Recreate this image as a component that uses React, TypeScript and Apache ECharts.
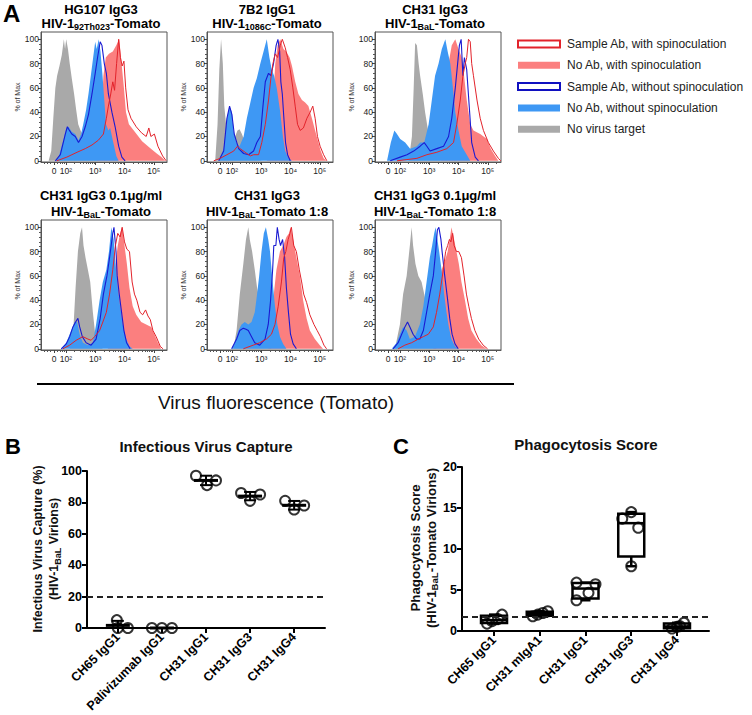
import { useEffect, useRef } from 'react';
import * as echarts from 'echarts';

const FONT = '"Liberation Sans", Arial, Helvetica, sans-serif';

// ---------------- Panel A: flow histograms ([decade position, % of max]) ----------------
const HIST_TICK_VALUES = [1.6, 2, 3, 4, 5];
const HIST_TICK_LABELS = ['0', '10²', '10³', '10⁴', '10⁵'];
const PCT_TICKS = [0, 20, 40, 60, 80, 100];

const P1_NO_VIRUS = [[1.41,0],[1.5,8],[1.57,35],[1.64,60],[1.7,70],[1.78,78],[1.86,87],[1.93,100],[1.97,92],[2.01,100],[2.07,92],[2.13,80],[2.2,68],[2.28,55],[2.35,42],[2.42,30],[2.5,25],[2.6,20],[2.75,14],[2.95,5],[3.15,0]];
const P1_NOAB_SPIN = [[3.06,0],[3.2,30],[3.28,70],[3.36,85],[3.47,88],[3.6,90],[3.72,95],[3.82,100],[3.9,80],[3.98,60],[4.05,40],[4.15,30],[4.35,24],[4.6,16],[4.85,11],[5.1,6],[5.27,3],[5.39,0]];
const P1_NOAB_NOSPIN = [[1.64,0],[1.75,3],[1.83,10],[1.92,18],[2.01,27],[2.09,28],[2.2,24],[2.32,22],[2.43,17],[2.52,22],[2.6,31],[2.69,42],[2.77,55],[2.85,70],[2.93,85],[3.0,98],[3.05,92],[3.12,100],[3.18,90],[3.25,70],[3.31,50],[3.37,30],[3.45,25],[3.51,27],[3.6,17],[3.72,4],[3.8,0]];
const P1_AB_NOSPIN = [[1.64,0],[1.81,5],[1.98,22],[2.05,28],[2.12,25],[2.2,22],[2.32,20],[2.43,15],[2.55,20],[2.66,28],[2.77,38],[2.89,55],[3.0,72],[3.08,85],[3.17,98],[3.23,95],[3.31,80],[3.38,72],[3.45,55],[3.57,40],[3.68,28],[3.8,12],[3.91,3],[4.02,0]];
const P1_AB_SPIN = [[1.69,0],[2.03,3],[2.38,7],[2.66,10],[2.89,13],[3.11,17],[3.28,22],[3.38,35],[3.45,45],[3.53,55],[3.6,65],[3.66,58],[3.73,80],[3.8,100],[3.86,85],[3.92,78],[3.98,82],[4.04,60],[4.12,42],[4.22,35],[4.4,28],[4.58,23],[4.74,20],[4.83,27],[4.9,20],[5.02,22],[5.14,12],[5.3,4],[5.42,0]];

const P2_NO_VIRUS = [[1.43,0],[1.51,30],[1.57,75],[1.63,100],[1.69,80],[1.74,45],[1.81,28],[1.89,22],[2.0,18],[2.11,20],[2.19,25],[2.26,26],[2.34,22],[2.45,15],[2.63,8],[2.85,2],[3.02,0]];
const P2_NOAB_SPIN = [[3.19,0],[3.36,30],[3.48,80],[3.56,95],[3.65,100],[3.76,92],[3.85,90],[3.97,85],[4.05,78],[4.16,65],[4.27,55],[4.39,50],[4.5,48],[4.61,45],[4.73,35],[4.84,25],[4.95,15],[5.03,8],[5.13,2],[5.22,0]];
const P2_NOAB_NOSPIN = [[1.55,0],[1.72,10],[1.83,35],[1.92,45],[2.0,40],[2.06,25],[2.15,15],[2.26,12],[2.4,20],[2.51,35],[2.63,48],[2.74,60],[2.85,68],[2.97,80],[3.08,90],[3.19,100],[3.28,85],[3.36,75],[3.44,70],[3.53,60],[3.65,40],[3.74,20],[3.82,8],[3.93,2],[4.05,0]];
const P2_AB_NOSPIN = [[1.55,0],[1.72,8],[1.83,35],[1.92,45],[2.0,38],[2.08,22],[2.23,10],[2.4,6],[2.57,5],[2.74,8],[2.85,15],[2.97,20],[3.06,45],[3.14,65],[3.25,72],[3.33,70],[3.42,80],[3.51,95],[3.57,100],[3.63,90],[3.67,65],[3.72,55],[3.76,40],[3.83,15],[3.9,5],[3.99,0]];
const P2_AB_SPIN = [[1.38,0],[1.6,2],[1.83,5],[2.06,8],[2.19,12],[2.28,10],[2.45,7],[2.63,4],[2.74,5],[2.91,5],[3.02,15],[3.14,30],[3.25,50],[3.33,68],[3.4,80],[3.48,88],[3.56,85],[3.65,95],[3.72,100],[3.82,93],[3.9,85],[3.99,75],[4.08,60],[4.16,45],[4.24,30],[4.33,25],[4.44,27],[4.56,35],[4.67,40],[4.76,45],[4.84,35],[4.92,20],[5.01,12],[5.13,5],[5.24,0]];

const P3_NO_VIRUS = [[2.3,0],[2.41,20],[2.47,60],[2.52,97],[2.58,95],[2.64,80],[2.69,70],[2.78,55],[2.86,40],[2.94,28],[3.03,15],[3.2,5],[3.38,0]];
const P3_NOAB_SPIN = [[3.38,0],[3.55,40],[3.66,80],[3.77,95],[3.89,100],[4.0,92],[4.11,85],[4.19,70],[4.28,50],[4.4,30],[4.51,25],[4.74,22],[4.97,18],[5.1,10],[5.25,4],[5.36,0]];
const P3_NOAB_NOSPIN = [[1.56,0],[1.69,15],[1.81,25],[1.9,22],[2.01,18],[2.18,15],[2.35,10],[2.58,12],[2.69,15],[2.83,15],[2.98,30],[3.09,50],[3.2,70],[3.32,80],[3.43,92],[3.55,100],[3.63,90],[3.72,80],[3.81,60],[3.89,40],[4.0,25],[4.11,12],[4.28,5],[4.4,0]];
const P3_AB_NOSPIN = [[1.67,0],[2.01,3],[2.24,5],[2.47,8],[2.69,12],[2.83,15],[2.92,12],[3.03,8],[3.26,10],[3.49,12],[3.66,20],[3.77,35],[3.89,60],[3.97,80],[4.03,95],[4.09,100],[4.15,70],[4.2,85],[4.28,75],[4.38,40],[4.45,15],[4.57,3],[4.68,0]];
const P3_AB_SPIN = [[1.9,0],[2.24,1],[2.58,2],[2.92,5],[3.26,7],[3.6,10],[3.83,15],[3.94,30],[4.06,50],[4.15,70],[4.23,80],[4.28,85],[4.34,100],[4.4,98],[4.45,80],[4.51,70],[4.63,50],[4.74,35],[4.85,25],[5.02,15],[5.19,8],[5.36,2],[5.44,0]];

const P4_NO_VIRUS = [[2.13,0],[2.24,10],[2.33,50],[2.41,80],[2.49,95],[2.55,100],[2.6,85],[2.67,75],[2.75,65],[2.83,55],[2.92,30],[3.01,10],[3.15,3],[3.26,0]];
const P4_NOAB_SPIN = [[3.43,0],[3.6,40],[3.69,70],[3.77,85],[3.85,95],[3.92,100],[4.0,85],[4.08,70],[4.17,50],[4.28,35],[4.4,28],[4.57,22],[4.74,20],[4.91,18],[5.02,12],[5.14,5],[5.25,0]];
const P4_NOAB_NOSPIN = [[1.84,0],[2.01,5],[2.18,15],[2.3,22],[2.38,22],[2.47,12],[2.58,5],[2.75,3],[2.92,5],[3.03,20],[3.15,40],[3.26,55],[3.38,65],[3.47,80],[3.55,100],[3.63,90],[3.69,70],[3.77,50],[3.85,35],[3.94,20],[4.06,8],[4.17,2],[4.28,0]];
const P4_AB_NOSPIN = [[1.84,0],[2.01,4],[2.13,10],[2.24,18],[2.33,22],[2.41,25],[2.47,18],[2.56,10],[2.69,5],[2.86,3],[3.03,8],[3.17,25],[3.28,45],[3.4,60],[3.49,75],[3.6,95],[3.64,100],[3.71,80],[3.75,60],[3.82,45],[3.9,30],[3.98,15],[4.07,5],[4.19,0]];
const P4_AB_SPIN = [[1.9,0],[2.13,3],[2.35,7],[2.58,10],[2.75,8],[2.86,7],[2.98,10],[3.15,15],[3.26,22],[3.38,30],[3.49,45],[3.6,65],[3.69,85],[3.77,95],[3.85,92],[3.92,100],[4.0,88],[4.08,82],[4.17,80],[4.26,55],[4.34,45],[4.42,40],[4.53,30],[4.62,28],[4.72,32],[4.8,27],[4.88,24],[4.97,15],[5.08,10],[5.22,2],[5.31,0]];

const P5_NO_VIRUS = [[2.05,0],[2.16,15],[2.27,45],[2.39,70],[2.48,90],[2.56,100],[2.61,90],[2.69,80],[2.78,65],[2.86,50],[2.95,40],[3.07,20],[3.18,8],[3.35,0]];
const P5_NOAB_SPIN = [[3.24,0],[3.35,20],[3.43,45],[3.52,65],[3.64,80],[3.75,85],[3.86,92],[3.95,95],[4.0,100],[4.09,90],[4.2,75],[4.32,60],[4.43,40],[4.55,25],[4.66,15],[4.83,8],[5.0,3],[5.11,0]];
const P5_NOAB_NOSPIN = [[1.99,0],[2.1,5],[2.22,15],[2.33,20],[2.44,22],[2.56,20],[2.67,22],[2.78,30],[2.86,45],[2.93,60],[3.01,80],[3.09,95],[3.16,100],[3.24,90],[3.3,80],[3.39,55],[3.47,35],[3.55,20],[3.64,10],[3.75,4],[3.86,0]];
const P5_AB_NOSPIN = [[1.99,0],[2.16,8],[2.27,15],[2.39,17],[2.48,16],[2.56,15],[2.67,10],[2.78,5],[2.95,3],[3.13,8],[3.24,20],[3.32,40],[3.39,65],[3.43,85],[3.5,85],[3.55,100],[3.61,90],[3.66,85],[3.73,90],[3.8,75],[3.86,50],[3.93,30],[4.0,12],[4.09,4],[4.2,0]];
const P5_AB_SPIN = [[2.39,0],[2.73,3],[2.95,5],[3.18,8],[3.35,12],[3.47,20],[3.58,35],[3.69,55],[3.77,75],[3.84,80],[3.92,90],[3.98,95],[4.03,100],[4.11,85],[4.2,80],[4.3,65],[4.38,55],[4.45,45],[4.55,38],[4.66,28],[4.8,20],[4.91,15],[5.02,10],[5.14,3],[5.23,0]];

const P6_NO_VIRUS = [[1.83,0],[2.0,20],[2.11,45],[2.23,60],[2.34,85],[2.4,100],[2.45,85],[2.53,70],[2.63,60],[2.74,55],[2.83,45],[2.91,35],[3.02,15],[3.14,5],[3.25,0]];
const P6_NOAB_SPIN = [[3.14,0],[3.25,30],[3.33,55],[3.42,65],[3.53,72],[3.63,80],[3.7,90],[3.76,100],[3.85,90],[3.93,80],[4.01,70],[4.1,55],[4.22,40],[4.33,25],[4.44,15],[4.61,8],[4.78,3],[4.95,0]];
const P6_NOAB_NOSPIN = [[1.72,0],[1.89,5],[2.0,12],[2.11,18],[2.23,15],[2.34,8],[2.51,10],[2.68,20],[2.8,35],[2.91,55],[3.02,75],[3.1,85],[3.17,95],[3.22,100],[3.28,90],[3.34,80],[3.42,65],[3.51,45],[3.59,30],[3.67,18],[3.76,8],[3.88,2],[3.99,0]];
const P6_AB_NOSPIN = [[1.77,0],[1.94,5],[2.06,12],[2.17,18],[2.26,22],[2.34,18],[2.45,12],[2.57,8],[2.68,8],[2.8,15],[2.91,30],[3.02,45],[3.14,60],[3.22,80],[3.28,98],[3.33,100],[3.4,90],[3.44,80],[3.53,60],[3.63,40],[3.7,25],[3.78,12],[3.88,4],[3.99,0]];
const P6_AB_SPIN = [[1.94,0],[2.17,3],[2.4,5],[2.63,8],[2.8,10],[2.97,12],[3.14,18],[3.25,30],[3.36,45],[3.48,65],[3.56,80],[3.63,85],[3.69,90],[3.74,88],[3.8,95],[3.85,85],[3.93,80],[4.01,80],[4.1,75],[4.19,60],[4.27,45],[4.35,35],[4.44,25],[4.56,15],[4.69,8],[4.84,3],[4.99,0]];

const PANEL_ANTIBODY = ['HG107 IgG3', '7B2 IgG1', 'CH31 IgG3', 'CH31 IgG3 0.1μg/ml', 'CH31 IgG3', 'CH31 IgG3 0.1μg/ml'];
const PANEL_STRAIN = ['92Th023', '1086C', 'BaL', 'BaL', 'BaL', 'BaL'];
const PANEL_SUFFIX = ['-Tomato', '-Tomato', '-Tomato', '-Tomato', '-Tomato 1:8', '-Tomato 1:8'];

const LEGEND_LABELS = [
  'Sample Ab, with spinoculation',
  'No Ab, with spinoculation',
  'Sample Ab, without spinoculation',
  'No Ab, without spinoculation',
  'No virus target',
];

// ---------------- Panel B: infectious virus capture ----------------
const B_CATEGORIES = ['CH65 IgG1', 'Palivizumab IgG1', 'CH31 IgG1', 'CH31 IgG3', 'CH31 IgG4'];
const B_CH65_IGG1 = [5, 0, 0];
const B_PALIVIZUMAB_IGG1 = [0, 0, 0];
const B_CH31_IGG1 = [97, 91, 94];
const B_CH31_IGG3 = [86, 81, 85];
const B_CH31_IGG4 = [81, 75.5, 78];
const B_THRESHOLD = 20;

// ---------------- Panel C: phagocytosis score ----------------
const C_CATEGORIES = ['CH65 IgG1', 'CH31 mIgA1', 'CH31 IgG1', 'CH31 IgG3', 'CH31 IgG4'];
const C_CH65_IGG1 = [0.9, 1.2, 1.45, 2.0];
const C_CH31_MIGA1 = [1.8, 2.0, 2.2, 2.4];
const C_CH31_IGG1 = [3.75, 4.65, 5.7, 5.9];
const C_CH31_IGG3 = [7.9, 12.6, 13.7, 14.5];
const C_CH31_IGG4 = [0.3, 0.5, 0.6, 1.0];
const C_THRESHOLD = 1.7;

// ---------------- styling / layout ----------------
const COL_GRAY = '#a9a9a9';
const COL_PINK = '#fb7f7f';
const COL_BLUE = '#3e98f4';
const COL_DKBLUE = '#1a1ad2';
const COL_RED = '#e2232b';

const HIST_POS = [
  { left: 41, top: 32 }, { left: 207, top: 32 }, { left: 375, top: 32 },
  { left: 41, top: 220 }, { left: 207, top: 220 }, { left: 375, top: 220 },
];
const HIST_W = 126;
const HIST_H = 130;
const HIST_X_MIN = 1.15;
const HIST_X_MAX = 5.45;
const B_JITTER = [[-1, 0, 10], [-10, 0, 10], [-10, 1, 10], [-9, 0, 10], [-9, 0, 10]];
const C_JITTER = [[-7, -2, 4, 8], [-7, -2, 3, 8], [-9, 3, 10, -9], [0, 7, -9, 0], [-5, 0, 3, 7]];

function histMinorX() {
  const out = [1.25, 1.38, 1.48, 1.72, 1.82, 1.89, 1.95];
  [2, 3, 4].forEach((d) => { for (let k = 2; k <= 9; k++) out.push(d + Math.log10(k)); });
  out.push(5 + Math.log10(2));
  return out;
}
function histMinorY() {
  const out: number[] = [];
  for (let v = 4; v < 104; v += 4) if (v % 20 !== 0) out.push(v);
  return out;
}

function quantile(sorted: number[], p: number) {
  const n = sorted.length;
  const pos = (n + 1) * p;
  const lo = Math.floor(pos);
  if (lo < 1) return sorted[0];
  if (lo >= n) return sorted[n - 1];
  return sorted[lo - 1] + (pos - lo) * (sorted[lo] - sorted[lo - 1]);
}

function buildOption() {
  const grid: any[] = [];
  const xAxis: any[] = [];
  const yAxis: any[] = [];
  const series: any[] = [];
  const graphic: any[] = [];

  const panels = [
    [P1_NO_VIRUS, P1_NOAB_SPIN, P1_NOAB_NOSPIN, P1_AB_NOSPIN, P1_AB_SPIN],
    [P2_NO_VIRUS, P2_NOAB_SPIN, P2_NOAB_NOSPIN, P2_AB_NOSPIN, P2_AB_SPIN],
    [P3_NO_VIRUS, P3_NOAB_SPIN, P3_NOAB_NOSPIN, P3_AB_NOSPIN, P3_AB_SPIN],
    [P4_NO_VIRUS, P4_NOAB_SPIN, P4_NOAB_NOSPIN, P4_AB_NOSPIN, P4_AB_SPIN],
    [P5_NO_VIRUS, P5_NOAB_SPIN, P5_NOAB_NOSPIN, P5_AB_NOSPIN, P5_AB_SPIN],
    [P6_NO_VIRUS, P6_NOAB_SPIN, P6_NOAB_NOSPIN, P6_AB_NOSPIN, P6_AB_SPIN],
  ];
  const minorX = histMinorX();
  const minorY = histMinorY();

  panels.forEach((p, i) => {
    const pos = HIST_POS[i];
    grid.push({ left: pos.left, top: pos.top, width: HIST_W, height: HIST_H, show: true, borderColor: '#555', borderWidth: 1, backgroundColor: 'transparent' });
    xAxis.push({
      gridIndex: i, type: 'value', min: HIST_X_MIN, max: HIST_X_MAX, position: 'bottom',
      axisLine: { show: true, onZero: false, lineStyle: { color: '#555', width: 1 } },
      axisTick: { show: true, customValues: HIST_TICK_VALUES, length: 3, lineStyle: { color: '#444', width: 1 } },
      axisLabel: {
        show: true, customValues: HIST_TICK_VALUES, margin: 4, fontSize: 8.5, color: '#222', fontFamily: FONT,
        formatter: (v: number) => {
          const k = HIST_TICK_VALUES.findIndex((t) => Math.abs(t - v) < 1e-6);
          return k >= 0 ? HIST_TICK_LABELS[k] : '';
        },
      },
      splitLine: { show: false },
    });
    xAxis.push({
      gridIndex: i, type: 'value', min: HIST_X_MIN, max: HIST_X_MAX, position: 'bottom',
      axisLine: { show: false, onZero: false },
      axisTick: { show: true, customValues: minorX, length: 2, lineStyle: { color: '#555', width: 1 } },
      axisLabel: { show: false }, splitLine: { show: false },
    });
    yAxis.push({
      gridIndex: i, type: 'value', min: -1, max: 106, position: 'left',
      axisLine: { show: true, onZero: false, lineStyle: { color: '#555', width: 1 } },
      axisTick: { show: true, customValues: PCT_TICKS, length: 3, lineStyle: { color: '#444', width: 1 } },
      axisLabel: { show: true, customValues: PCT_TICKS, margin: 2, fontSize: 8.5, color: '#222', fontFamily: FONT },
      splitLine: { show: false },
      name: '% of Max', nameLocation: 'middle', nameGap: 19, nameRotate: 90,
      nameTextStyle: { fontSize: 7, color: '#333', fontFamily: FONT },
    });
    yAxis.push({
      gridIndex: i, type: 'value', min: -1, max: 106, position: 'left',
      axisLine: { show: false, onZero: false },
      axisTick: { show: true, customValues: minorY, length: 2, lineStyle: { color: '#555', width: 1 } },
      axisLabel: { show: false }, splitLine: { show: false },
    });
    const ax = i * 2;
    const base = { type: 'line', xAxisIndex: ax, yAxisIndex: ax, symbol: 'none', silent: true, animation: false };
    series.push({ ...base, data: p[0], lineStyle: { width: 0 }, areaStyle: { color: COL_GRAY, opacity: 1 } });
    series.push({ ...base, data: p[1], lineStyle: { width: 0 }, areaStyle: { color: COL_PINK, opacity: 1 } });
    series.push({ ...base, data: p[2], lineStyle: { width: 0 }, areaStyle: { color: COL_BLUE, opacity: 1 } });
    series.push({ ...base, data: p[3], lineStyle: { width: 1.1, color: COL_DKBLUE } });
    series.push({ ...base, data: p[4], lineStyle: { width: 1, color: COL_RED } });

    // panel titles
    const cx = pos.left + HIST_W / 2 - 3;
    const y1 = i < 3 ? 9.5 : 195;
    const y2 = i < 3 ? 23.5 : 211;
    graphic.push({
      type: 'text', x: cx, y: y1, silent: true,
      style: { text: PANEL_ANTIBODY[i], fontSize: 13, fontWeight: 'bold', fontFamily: FONT, fill: '#000', align: 'center', verticalAlign: 'middle' },
    });
    graphic.push({
      type: 'text', x: cx, y: y2, silent: true,
      style: {
        text: 'HIV-1{s|' + PANEL_STRAIN[i] + '}' + PANEL_SUFFIX[i],
        fontSize: 13, fontWeight: 'bold', fontFamily: FONT, fill: '#000', lineHeight: 16,
        align: 'center', verticalAlign: 'middle',
        rich: { s: { fontSize: 9, fontWeight: 'bold', fontFamily: FONT, fill: '#000', lineHeight: 8, verticalAlign: 'bottom' } },
      },
    });
  });

  // ---- Panel B ----
  const bGroups = [B_CH65_IGG1, B_PALIVIZUMAB_IGG1, B_CH31_IGG1, B_CH31_IGG3, B_CH31_IGG4];
  grid.push({ left: 87, top: 471, width: 238, height: 157 });
  const catX = (cats: string[], gi: number) => ({
    gridIndex: gi, type: 'value', min: -0.7, max: 4.7,
    axisLine: { show: true, onZero: false, lineStyle: { color: '#000', width: 2 } },
    axisTick: { show: true, customValues: [0, 1, 2, 3, 4], length: 5, lineStyle: { color: '#000', width: 2 } },
    axisLabel: {
      show: true, customValues: [0, 1, 2, 3, 4], rotate: 45, margin: 7,
      fontSize: 12.5, fontWeight: 'bold', color: '#000', fontFamily: FONT,
      formatter: (v: number) => cats[Math.round(v)] ?? '',
    },
    splitLine: { show: false },
  });
  const valY = (gi: number, max: number, interval: number) => ({
    gridIndex: gi, type: 'value', min: 0, max, interval,
    axisLine: { show: true, onZero: false, lineStyle: { color: '#000', width: 2 } },
    axisTick: { show: true, length: 5, lineStyle: { color: '#000', width: 2 } },
    axisLabel: { show: true, margin: 5, fontSize: 12.5, fontWeight: 'bold', color: '#000', fontFamily: FONT },
    splitLine: { show: false },
  });
  xAxis.push(catX(B_CATEGORIES, 6));
  yAxis.push(valY(6, 100, 20));
  const bAxis = xAxis.length - 1;

  const bPoints: any[] = [];
  bGroups.forEach((vals, i) => vals.forEach((v, j) => bPoints.push({ value: [i, v], symbolOffset: [B_JITTER[i][j], 0] })));
  const bStats = bGroups.map((vals, i) => {
    const m = vals.reduce((a, b) => a + b, 0) / vals.length;
    const sd = Math.sqrt(vals.reduce((a, b) => a + (b - m) * (b - m), 0) / (vals.length - 1));
    return [i, m, sd];
  });
  const dashLine = (y: number) => ({
    silent: true, symbol: ['none', 'none'], label: { show: false },
    lineStyle: { color: '#222', width: 2, type: [6, 4] },
    data: [{ yAxis: y }], animation: false,
  });
  series.push({
    type: 'scatter', xAxisIndex: bAxis, yAxisIndex: bAxis, data: bPoints, symbol: 'circle', symbolSize: 10, silent: true,
    itemStyle: { color: 'rgba(0,0,0,0)', borderColor: '#000', borderWidth: 2 },
    markLine: dashLine(B_THRESHOLD), z: 3,
  });
  series.push({
    type: 'custom', xAxisIndex: bAxis, yAxisIndex: bAxis, data: bStats, silent: true, z: 4,
    encode: { x: 0, y: 1 },
    renderItem: (_p: any, api: any) => {
      const x = api.value(0), m = api.value(1), s = api.value(2);
      const c = api.coord([x, m]);
      const t = api.coord([x, m + s]);
      const b = api.coord([x, Math.max(0, m - s)]);
      const st = { stroke: '#000', lineWidth: 2 };
      return {
        type: 'group', children: [
          { type: 'line', shape: { x1: c[0], y1: t[1], x2: c[0], y2: b[1] }, style: st },
          { type: 'line', shape: { x1: c[0] - 6, y1: t[1], x2: c[0] + 6, y2: t[1] }, style: st },
          { type: 'line', shape: { x1: c[0] - 6, y1: b[1], x2: c[0] + 6, y2: b[1] }, style: st },
          { type: 'line', shape: { x1: c[0] - 12, y1: c[1], x2: c[0] + 12, y2: c[1] }, style: { stroke: '#000', lineWidth: 3 } },
        ],
      };
    },
  });

  // ---- Panel C ----
  const cGroups = [C_CH65_IGG1, C_CH31_MIGA1, C_CH31_IGG1, C_CH31_IGG3, C_CH31_IGG4];
  grid.push({ left: 462, top: 467, width: 247, height: 164 });
  xAxis.push(catX(C_CATEGORIES, 7));
  yAxis.push(valY(7, 20, 5));
  const cAxis = xAxis.length - 1;
  const cStats = cGroups.map((vals, i) => {
    const s = [...vals].sort((a, b) => a - b);
    return [i, s[0], quantile(s, 0.25), quantile(s, 0.5), quantile(s, 0.75), s[s.length - 1]];
  });
  series.push({
    type: 'custom', xAxisIndex: cAxis, yAxisIndex: cAxis, data: cStats, silent: true, z: 3,
    encode: { x: 0, y: [1, 2, 3, 4, 5] },
    renderItem: (_p: any, api: any) => {
      const x = api.value(0);
      const pMin = api.coord([x, api.value(1)]);
      const pQ1 = api.coord([x, api.value(2)]);
      const pMed = api.coord([x, api.value(3)]);
      const pQ3 = api.coord([x, api.value(4)]);
      const pMax = api.coord([x, api.value(5)]);
      const cx = pMed[0];
      const hw = 13, cap = 5;
      const st = { stroke: '#000', lineWidth: 2.5 };
      return {
        type: 'group', children: [
          { type: 'line', shape: { x1: cx, y1: pMax[1], x2: cx, y2: pQ3[1] }, style: st },
          { type: 'line', shape: { x1: cx, y1: pQ1[1], x2: cx, y2: pMin[1] }, style: st },
          { type: 'line', shape: { x1: cx - cap, y1: pMax[1], x2: cx + cap, y2: pMax[1] }, style: st },
          { type: 'line', shape: { x1: cx - cap, y1: pMin[1], x2: cx + cap, y2: pMin[1] }, style: st },
          { type: 'rect', shape: { x: cx - hw, y: pQ3[1], width: hw * 2, height: pQ1[1] - pQ3[1] }, style: { stroke: '#000', lineWidth: 2.5, fill: '#fff' } },
          { type: 'line', shape: { x1: cx - hw, y1: pMed[1], x2: cx + hw, y2: pMed[1] }, style: st },
        ],
      };
    },
  });
  const cPoints: any[] = [];
  cGroups.forEach((vals, i) => vals.forEach((v, j) => cPoints.push({ value: [i, v], symbolOffset: [C_JITTER[i][j], 0] })));
  series.push({
    type: 'scatter', xAxisIndex: cAxis, yAxisIndex: cAxis, data: cPoints, symbol: 'circle', symbolSize: 10, silent: true, z: 4,
    itemStyle: { color: 'rgba(0,0,0,0)', borderColor: '#000', borderWidth: 2 },
    markLine: dashLine(C_THRESHOLD),
  });

  // ---- Static graphics: panel letters, legend, shared axis title ----
  const letter = (t: string, x: number, y: number, size: number) => ({
    type: 'text', x, y, silent: true,
    style: { text: t, fontSize: size, fontWeight: 'bold', fontFamily: FONT, fill: '#000', align: 'left', verticalAlign: 'middle' },
  });
  graphic.push(letter('A', 3, 13, 24));
  graphic.push(letter('B', 5, 446, 22));
  graphic.push(letter('C', 393, 446, 22));

  graphic.push({ type: 'line', silent: true, shape: { x1: 37, y1: 384, x2: 514, y2: 384 }, style: { stroke: '#000', lineWidth: 2 } });
  graphic.push({
    type: 'text', x: 276, y: 402, silent: true,
    style: { text: 'Virus fluorescence (Tomato)', fontSize: 19, fontFamily: FONT, fill: '#111', align: 'center', verticalAlign: 'middle' },
  });

  const legendStyles = [
    { fill: '#fff', stroke: COL_RED, lineWidth: 2 },
    { fill: COL_PINK, stroke: 'none', lineWidth: 0 },
    { fill: '#fff', stroke: '#1010c0', lineWidth: 2 },
    { fill: COL_BLUE, stroke: 'none', lineWidth: 0 },
    { fill: COL_GRAY, stroke: 'none', lineWidth: 0 },
  ];
  LEGEND_LABELS.forEach((lab, k) => {
    const y = 44 + k * 21.3;
    graphic.push({ type: 'rect', silent: true, shape: { x: 518, y: y - 3.5, width: 42, height: 7 }, style: legendStyles[k] });
    graphic.push({
      type: 'text', x: 567, y, silent: true,
      style: { text: lab, fontSize: 12, fontFamily: FONT, fill: '#222', align: 'left', verticalAlign: 'middle' },
    });
  });

  // Titles of B and C
  graphic.push({
    type: 'text', x: 206, y: 446, silent: true,
    style: { text: 'Infectious Virus Capture', fontSize: 15, fontWeight: 'bold', fontFamily: FONT, fill: '#111', align: 'center', verticalAlign: 'middle' },
  });
  graphic.push({
    type: 'text', x: 586, y: 444, silent: true,
    style: { text: 'Phagocytosis Score', fontSize: 15, fontWeight: 'bold', fontFamily: FONT, fill: '#111', align: 'center', verticalAlign: 'middle' },
  });
  // Y axis names (rotated)
  const yName = (text: string, x: number, y: number, size: number) => ({
    type: 'text', x, y, rotation: Math.PI / 2, silent: true,
    style: {
      text, fontSize: size, fontWeight: 'bold', fontFamily: FONT, fill: '#111', lineHeight: 16,
      align: 'center', verticalAlign: 'middle',
      rich: { s: { fontSize: size * 0.72, fontWeight: 'bold', fontFamily: FONT, fill: '#111', lineHeight: 8, verticalAlign: 'bottom' } },
    },
  });
  graphic.push(yName('Infectious Virus Capture (%)', 38, 549, 12.5));
  graphic.push(yName('(HIV-1{s|BaL} Virions)', 54, 549, 12.5));
  graphic.push(yName('Phagocytosis Score', 415, 548, 13.3));
  graphic.push(yName('(HIV-1{s|BaL}-Tomato Virions)', 431, 548, 13.3));

  return { animation: false, backgroundColor: '#fff', grid, xAxis, yAxis, series, graphic };
}

export default function App() {
  const ref = useRef<HTMLDivElement>(null);
  useEffect(() => {
    if (!ref.current) return;
    const chart = echarts.init(ref.current, null, { renderer: 'svg' });
    chart.setOption(buildOption() as any);
    return () => chart.dispose();
  }, []);
  return <div ref={ref} style={{ position: 'fixed', left: 0, top: 0, width: 752, height: 715, background: '#fff' }} />;
}
